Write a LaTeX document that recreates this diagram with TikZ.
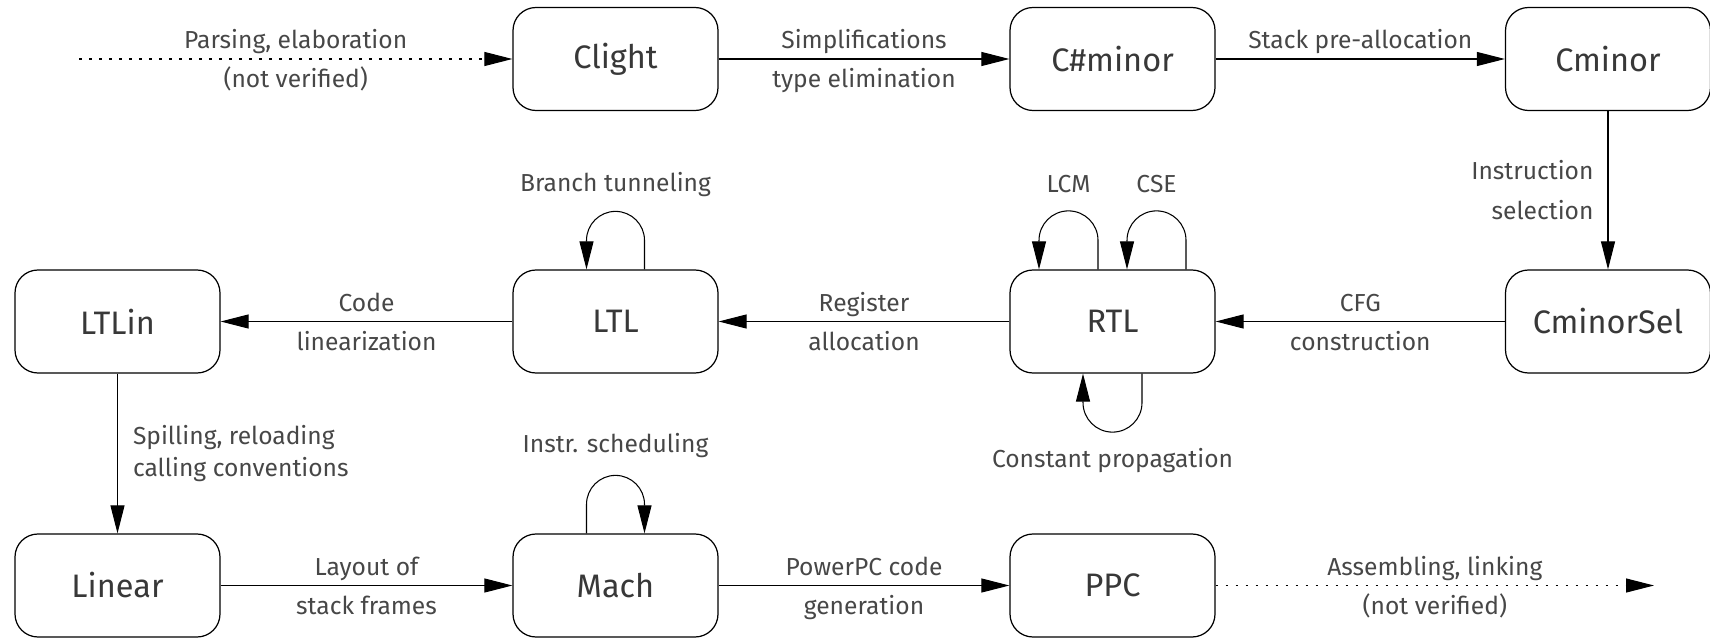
\documentclass[tikz,border=0pt]{standalone}
\usepackage{fontspec}
\setmainfont{Fira Sans}
\usetikzlibrary{arrows.meta,calc}

\tikzset{
  >={Triangle[length=5.6mm,width=2.8mm]},
  pass/.style={draw,rounded corners=4.6mm,minimum width=41mm,minimum height=20.6mm,line width=.7pt,font=\fontsize{18.5}{22}\selectfont,text=black!78},
  lbl/.style={font=\fontsize{14}{16}\selectfont,text=black!72},
  lblup/.style={lbl,midway,anchor=base,yshift=2mm},
  lbldn/.style={lbl,midway,anchor=base,yshift=-5.8mm},
  unverified/.style={dash pattern=on .5mm off 1.5mm}
}

\begin{document}
\begin{tikzpicture}[x=.2mm,y=.2mm,line width=.6pt]
\useasboundingbox (0,0) rectangle (1710,637);
% passes
\node[pass] (clight) at (615.5,578) {Clight};
\node[pass] (csharpminor) at (1112.5,578) {C\#minor};
\node[pass] (cminor) at (1608,578) {Cminor};
\node[pass] (cminorsel) at (1608,315.5) {CminorSel};
\node[pass] (rtl) at (1112.5,315.5) {RTL};
\node[pass] (ltl) at (615.5,315.5) {LTL};
\node[pass] (ltlin) at (117.5,315.5) {LTLin};
\node[pass] (linear) at (117.5,51.5) {Linear};
\node[pass] (mach) at (615.5,51.5) {Mach};
\node[pass] (ppc) at (1112.5,51.5) {PPC};
\coordinate (src) at (79,578);
\coordinate (asm) at (1654,51.5);
% translations
\draw[->,unverified] (src) -- (clight) node[lblup] {Parsing, elaboration} node[lbldn] {(not verified)};
\draw[->] (clight) -- (csharpminor) node[lblup] {Simplifications} node[lbldn] {type elimination};
\draw[->] (csharpminor) -- (cminor) node[lblup] {Stack pre-allocation};
\draw[->] (cminor) -- (cminorsel) node[lbl,midway,left,align=right,inner xsep=2.8mm,font=\fontsize{14}{22.8}\selectfont] {Instruction\\selection};
\draw[->] (cminorsel) -- (rtl) node[lblup] {CFG} node[lbldn] {construction};
\draw[->] (rtl) -- (ltl) node[lblup] {Register} node[lbldn] {allocation};
\draw[->] (ltl) -- (ltlin) node[lblup] {Code} node[lbldn] {linearization};
\draw[->] (ltlin) -- (linear) node[lbl,midway,right,align=left,inner xsep=3mm,font=\fontsize{14}{18.2}\selectfont] {Spilling, reloading\\calling conventions};
\draw[->] (linear) -- (mach) node[lblup] {Layout of} node[lbldn] {stack frames};
\draw[->] (mach) -- (ppc) node[lblup] {PowerPC code} node[lbldn] {generation};
\draw[->,unverified] (ppc) -- (asm) node[lblup] {Assembling, linking} node[lbldn] {(not verified)};
% optimizations
\draw[->] ($(ltl.north)+(29,0)$) -- ++(0,29) arc[start angle=0,end angle=180,radius=5.8mm] -- ($(ltl.north)+(-29,0)$);
\node[lbl,anchor=base] (tunnel) at ($(ltl.north)+(0,78)$) {Branch tunneling};
\draw[->] ($(rtl.north)+(-14.5,0)$) -- ++(0,29) arc[start angle=0,end angle=180,radius=5.9mm] -- ($(rtl.north)+(-73.5,0)$);
\draw[->] ($(rtl.north)+(73.5,0)$) -- ++(0,29) arc[start angle=0,end angle=180,radius=5.9mm] -- ($(rtl.north)+(14.5,0)$);
\node[lbl,anchor=base] (lcm) at ($(rtl.north)+(-44,77)$) {LCM};
\node[lbl,anchor=base] (cse) at ($(rtl.north)+(44,77)$) {CSE};
\draw[->] ($(rtl.south)+(29.5,0)$) -- ++(0,-29) arc[start angle=0,end angle=-180,radius=5.9mm] -- ($(rtl.south)+(-29.5,0)$);
\node[lbl,anchor=base] (constprop) at ($(rtl.south)+(0,-94)$) {Constant propagation};
\draw[->] ($(mach.north)+(-29,0)$) -- ++(0,29) arc[start angle=180,end angle=0,radius=5.8mm] -- ($(mach.north)+(29,0)$);
\node[lbl,anchor=base] (sched) at ($(mach.north)+(0,81)$) {Instr. scheduling};
\end{tikzpicture}
\end{document}
